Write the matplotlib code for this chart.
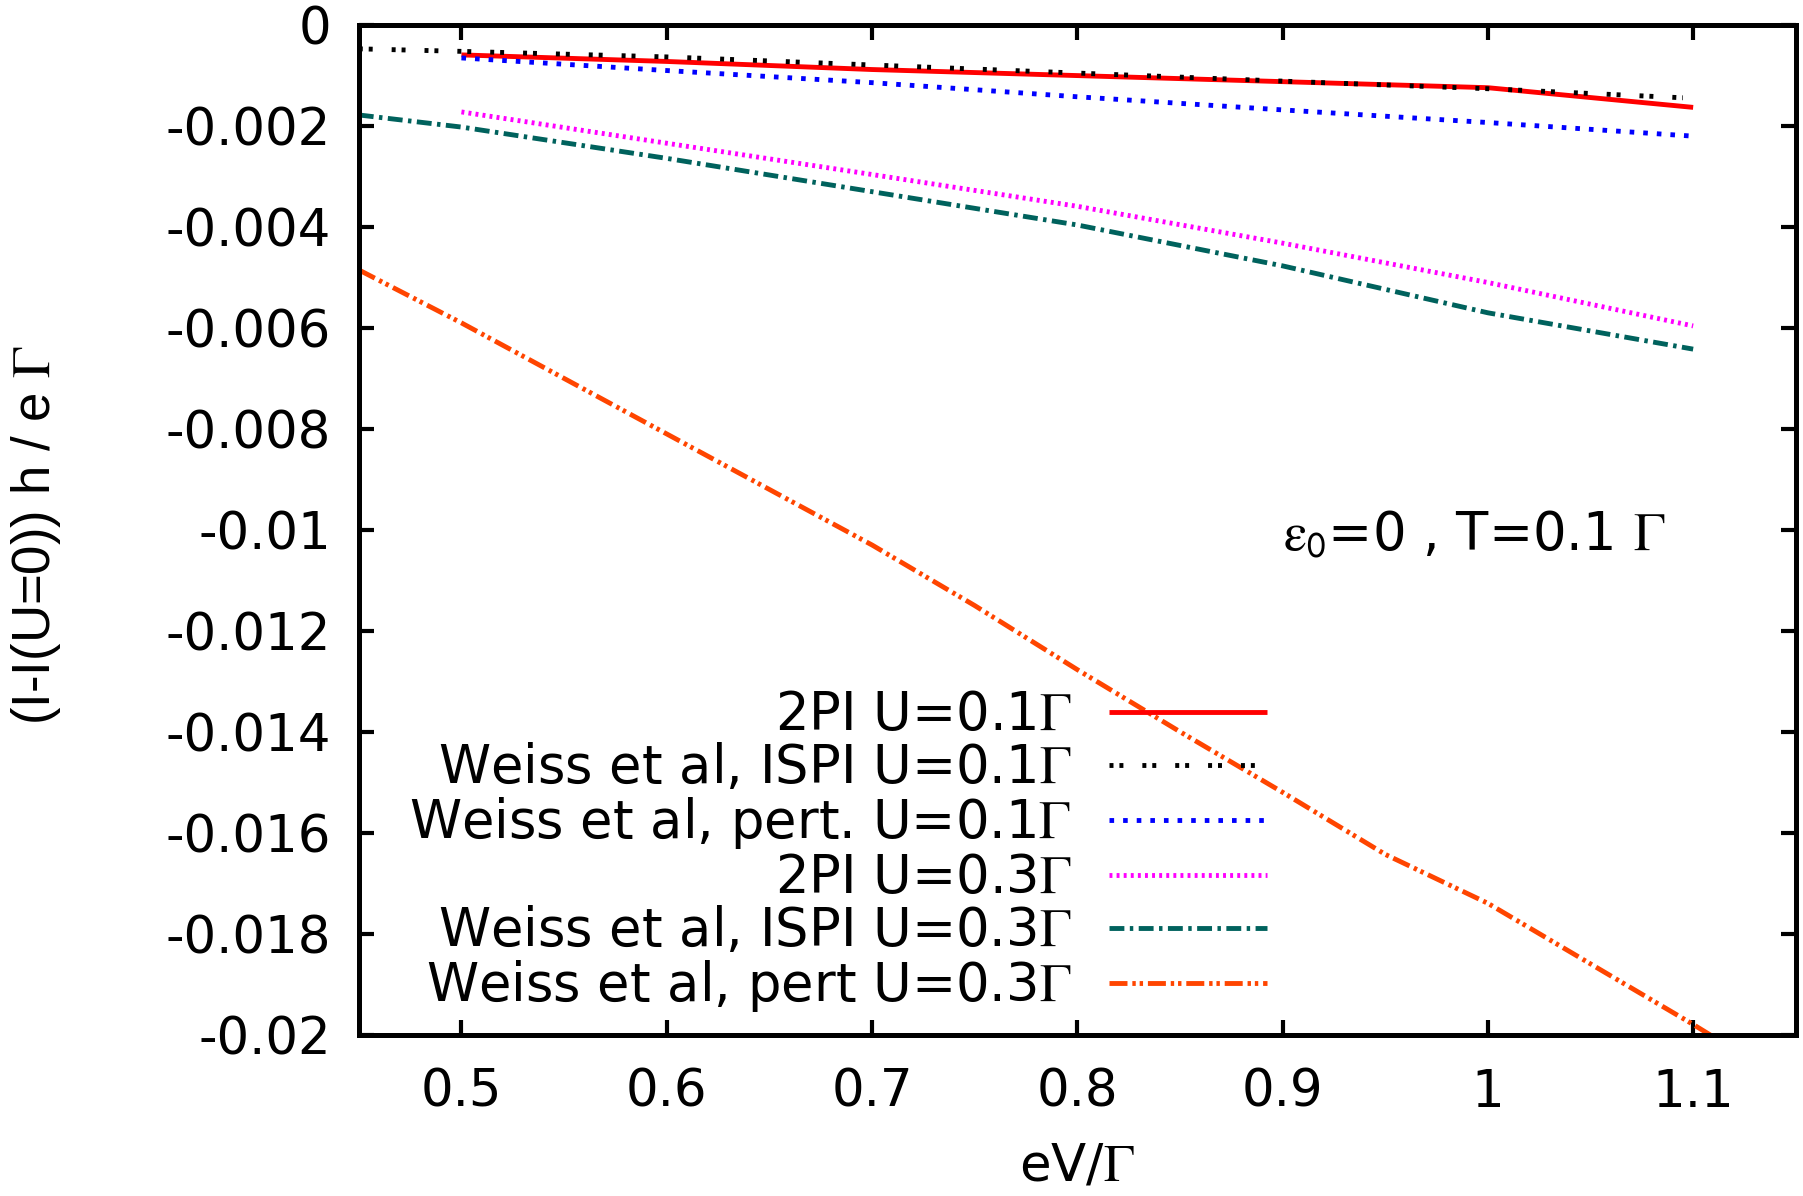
import matplotlib

matplotlib.use("Agg")
import matplotlib.pyplot as plt
import numpy as np
from matplotlib.ticker import FormatStrFormatter, MultipleLocator

plt.rcParams["font.family"] = ["DejaVu Sans"]
plt.rcParams["mathtext.fontset"] = "stix"

# bias voltage grids (eV / Gamma)
x_coarse = [0.5, 0.6, 0.7, 0.8, 0.9, 1.0, 1.1]
x_ispi_u01 = [0.45, 0.5, 0.6, 0.7, 0.8, 0.9, 1.0, 1.095]
x_ispi_u03 = [0.45, 0.5, 0.6, 0.7, 0.8, 0.9, 1.0, 1.1]
x_pert_u03 = [0.45, 0.5, 0.55, 0.6, 0.65, 0.7, 0.75, 0.8, 0.85, 0.9,
              0.95, 1.0, 1.05, 1.1, 1.12]

# current difference (I - I(U=0)) h / e Gamma
twopi_u01 = [-0.00059, -0.00072, -0.00088, -0.00100, -0.00112, -0.00124, -0.00163]
ispi_u01 = [-0.00047, -0.00052, -0.00063, -0.00079, -0.00095, -0.00111,
            -0.00126, -0.00144]
pert_u01 = [-0.00065, -0.00090, -0.00114, -0.00142, -0.00168, -0.00193, -0.00220]
twopi_u03 = [-0.00172, -0.00234, -0.00296, -0.00359, -0.00432, -0.00510, -0.00596]
ispi_u03 = [-0.00178, -0.00202, -0.00264, -0.00330, -0.00396, -0.00477,
            -0.00570, -0.00642]
pert_u03 = [-0.00485, -0.0059, -0.0070, -0.0081, -0.0092, -0.0103, -0.0115,
            -0.01277, -0.0140, -0.0152, -0.01643, -0.0174, -0.0186, -0.0198,
            -0.0203]

lw = 3.5

fig = plt.figure(figsize=(18.03, 11.96), dpi=100)
ax = fig.add_axes([0.199, 0.135, 0.797, 0.844])

ax.plot(x_coarse, twopi_u01, color="#ff0000", lw=lw, solid_capstyle="butt",
        label=r"2PI U=0.1$\Gamma$")
ax.plot(x_ispi_u01, ispi_u01, color="black", lw=lw, dash_capstyle="butt",
        linestyle=(0, (0.82, 1.22, 0.82, 3.9)),
        label=r"Weiss et al, ISPI U=0.1$\Gamma$")
ax.plot(x_coarse, pert_u01, color="#0000ff", lw=lw, dash_capstyle="butt",
        linestyle=(0, (0.95, 1.85)),
        label=r"Weiss et al, pert. U=0.1$\Gamma$")
ax.plot(x_coarse, twopi_u03, color="#ff00ff", lw=lw, dash_capstyle="butt",
        linestyle=(0, (0.6, 0.86)),
        label=r"2PI U=0.3$\Gamma$")
ax.plot(x_ispi_u03, ispi_u03, color="#00625d", lw=lw, dash_capstyle="butt",
        linestyle=(0, (3.06, 1.12, 0.71, 1.12)),
        label=r"Weiss et al, ISPI U=0.3$\Gamma$")
ax.plot(x_pert_u03, pert_u03, color="#ff4500", lw=lw, dash_capstyle="butt",
        linestyle=(0, (3.7, 1.0, 0.7, 0.8, 0.7, 1.0)),
        label=r"Weiss et al, pert U=0.3$\Gamma$")

ax.set_xlim(0.45, 1.15)
ax.set_ylim(-0.02, 0.0)
ax.xaxis.set_major_locator(MultipleLocator(0.1))
ax.yaxis.set_major_locator(MultipleLocator(0.002))
ax.xaxis.set_major_formatter(FormatStrFormatter("%g"))
ax.yaxis.set_major_formatter(FormatStrFormatter("%g"))
ax.set_xticks(np.arange(0.5, 1.101, 0.1))

ax.tick_params(direction="in", length=11, width=3, labelsize=37,
               top=True, right=True)
ax.tick_params(axis="x", pad=24)
ax.tick_params(axis="y", pad=20)
for spine in ax.spines.values():
    spine.set_linewidth(3.6)

ax.set_xlabel(r"eV/$\Gamma$", fontsize=37)
ax.xaxis.set_label_coords(0.5, -0.106)
ax.set_ylabel(r"(I-I(U=0)) h / e $\Gamma$", fontsize=38,
              family=["Liberation Sans"])
ax.yaxis.set_label_coords(-0.206, 0.495)

ax.text(0.9, -0.0104,
        r"$\mathrm{\varepsilon}_{\mathsf{0}}$=0 , T=0.1 $\Gamma$",
        fontsize=38, va="baseline", ha="left")

ax.legend(loc="lower right", bbox_to_anchor=(0.632, 0.02), frameon=False,
          markerfirst=False, fontsize=38, handlelength=3.0,
          handletextpad=0.7, labelspacing=0.02, borderpad=0,
          borderaxespad=0)

fig.savefig("out.png", dpi=100)
plt.close(fig)
